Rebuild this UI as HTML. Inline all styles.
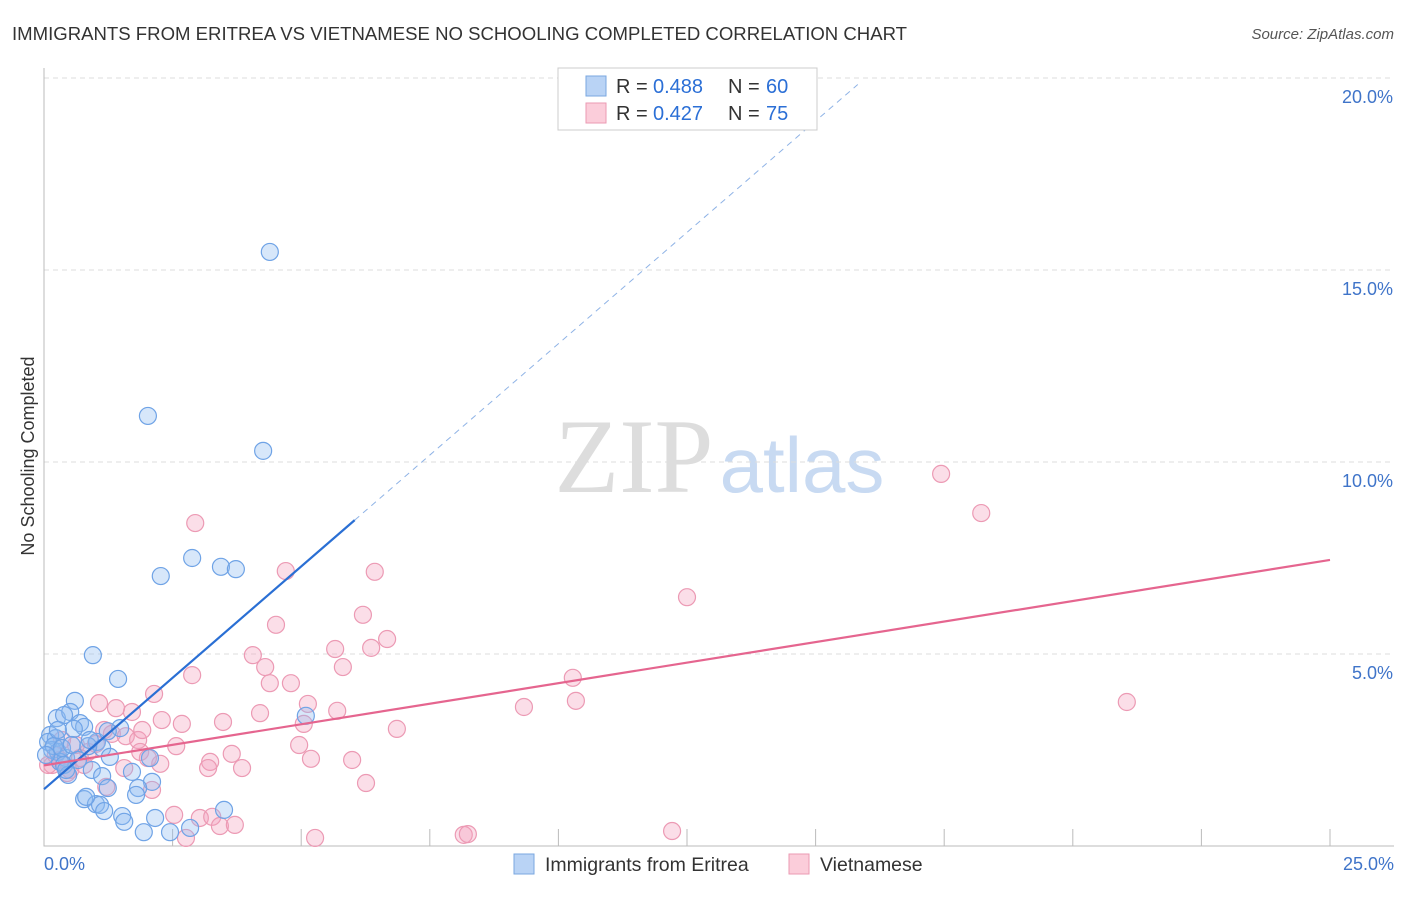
<!DOCTYPE html>
<html><head><meta charset="utf-8"><style>
body{margin:0;background:#fff;font-family:"Liberation Sans",sans-serif}
</style></head><body>
<svg id="chart" width="1406" height="892" xmlns="http://www.w3.org/2000/svg" font-family="Liberation Sans, sans-serif">
<text x="12" y="40" font-size="18" fill="#333" textLength="895" lengthAdjust="spacingAndGlyphs">IMMIGRANTS FROM ERITREA VS VIETNAMESE NO SCHOOLING COMPLETED CORRELATION CHART</text>
<text x="1394" y="39" font-size="15" fill="#555" text-anchor="end" font-style="italic">Source: ZipAtlas.com</text>
<text transform="translate(34,456) rotate(-90)" font-size="18" fill="#333" text-anchor="middle">No Schooling Completed</text>
<g><text x="634" y="492" font-size="106" fill="#ddd" font-family="Liberation Serif, serif" text-anchor="middle">ZIP</text><text x="802" y="492" font-size="78" fill="#c8daf2" text-anchor="middle">atlas</text></g>
<g id="grid"></g><g id="marks"></g><g id="lines"></g>
<g>
<rect x="558" y="68" width="259" height="62" fill="#fff" stroke="#ccc"/>
<rect x="586" y="76" width="20" height="20" fill="#b9d3f5" stroke="#7aa7e0"/>
<text x="616" y="93" font-size="20" fill="#333">R =</text><text x="653" y="93" font-size="20" fill="#2b6fd6">0.488</text>
<text x="728" y="93" font-size="20" fill="#333">N =</text><text x="766" y="93" font-size="20" fill="#2b6fd6">60</text>
<rect x="586" y="103" width="20" height="20" fill="#fbcdda" stroke="#eb9ab3"/>
<text x="616" y="120" font-size="20" fill="#333">R =</text><text x="653" y="120" font-size="20" fill="#2b6fd6">0.427</text>
<text x="728" y="120" font-size="20" fill="#333">N =</text><text x="766" y="120" font-size="20" fill="#2b6fd6">75</text>
</g>
<g>
<rect x="514" y="854" width="20" height="20" fill="#b9d3f5" stroke="#7aa7e0"/>
<text x="545" y="871" font-size="19.5" fill="#333">Immigrants from Eritrea</text>
<rect x="789" y="854" width="20" height="20" fill="#fbcdda" stroke="#eb9ab3"/>
<text x="820" y="871" font-size="19.5" fill="#333">Vietnamese</text>
</g>
</svg>
<script>
const xTicks=[0,2.5,5,7.5,10,12.5,15,17.5,20,22.5,25];
const yTicks=[5,10,15,20];
const yTickLabels=["5.0%","10.0%","15.0%","20.0%"];
const blueX=[4.39,2.02,4.26,2.88,2.27,3.44,3.73,0.95,1.44,0.60,0.25,0.51,0.39,0.70,0.78,0.58,1.03,1.48,1.24,0.12,0.23,1.13,0.86,1.28,0.16,0.27,0.43,0.31,0.39,0.93,1.13,1.71,0.47,1.24,2.10,1.83,1.79,0.78,1.01,1.09,1.17,1.52,0.82,2.16,1.56,1.94,2.45,2.84,3.50,5.09,0.08,0.19,0.04,0.35,0.54,0.89,2.06,0.43,0.66,0.27];
const blueY=[15.47,11.20,10.29,7.50,7.03,7.27,7.21,4.97,4.35,3.78,3.33,3.49,3.41,3.20,3.10,3.05,2.71,3.07,2.99,2.89,2.81,2.55,2.60,2.32,2.50,2.45,2.29,2.19,2.11,1.98,1.82,1.93,1.85,1.51,1.67,1.51,1.33,1.22,1.09,1.07,0.91,0.78,1.28,0.73,0.63,0.36,0.36,0.47,0.94,3.39,2.71,2.60,2.37,2.55,2.63,2.76,2.29,1.98,2.24,3.02];
const pinkX=[17.44,18.22,2.94,4.70,6.43,12.50,6.20,4.51,6.67,5.66,4.06,6.36,4.30,5.81,4.39,4.80,2.88,10.28,10.34,21.05,2.14,1.07,1.71,1.40,5.13,5.70,9.33,2.29,2.68,3.48,4.20,5.05,6.86,1.32,1.59,1.83,2.57,4.96,3.65,3.23,5.99,5.19,2.26,3.19,3.85,1.56,0.31,0.16,0.51,0.86,1.01,1.17,1.87,6.26,2.10,1.21,2.53,3.03,3.27,3.42,3.71,5.27,8.16,8.24,12.21,2.76,0.70,0.08,0.23,1.91,2.02,0.62,0.35,0.78,0.45];
const pinkY=[9.69,8.67,8.41,7.16,7.14,6.48,6.02,5.76,5.39,5.13,4.97,5.16,4.66,4.66,4.24,4.24,4.45,4.38,3.78,3.75,3.96,3.72,3.49,3.59,3.70,3.52,3.62,3.28,3.18,3.23,3.46,3.18,3.05,2.92,2.86,2.76,2.60,2.63,2.40,2.19,2.24,2.27,2.14,2.03,2.03,2.03,2.24,2.11,1.98,2.45,2.66,3.02,2.45,1.64,1.46,1.54,0.81,0.73,0.76,0.52,0.55,0.21,0.29,0.31,0.39,0.21,2.29,2.11,2.37,3.02,2.29,2.63,2.76,2.11,1.90];
const blueLine={b:1.48,m:1.16,solidEnd:6.04,dashEnd:15.82};
const pinkLine={b:2.1,m:0.214,end:25};
const NS="http://www.w3.org/2000/svg";
const X=v=>44+v*51.44, Y=v=>846-v*38.4;
function mk(t,a,p){const e=document.createElementNS(NS,t);for(const k in a)e.setAttribute(k,a[k]);p.appendChild(e);return e;}
const grid=document.getElementById('grid');
yTicks.forEach((t,i)=>{
 const l=mk('line',{x1:44,x2:1394,y1:Y(t),y2:Y(t),stroke:'#ddd','stroke-dasharray':'5,4'},grid);
 
 
 const tx=mk('text',{x:1393,y:Y(t)+25,'font-size':18,fill:'#3f74c9','text-anchor':'end'},grid);
 tx.textContent=yTickLabels[i];
 
 
});
const ax=mk('path',{d:'M44 68 V846 H1394',fill:'none',stroke:'#bbb'},grid);


xTicks.forEach(t=>{
 const l=mk('line',{x1:X(t),x2:X(t),y1:829,y2:846,stroke:'#bbb'},grid);
 
 
});
const xl0=mk('text',{x:44,y:870,'font-size':18,fill:'#3f74c9'},grid);xl0.textContent='0.0%';


const xl1=mk('text',{x:1394,y:870,'font-size':18,fill:'#3f74c9','text-anchor':'end'},grid);xl1.textContent='25.0%';


const marks=document.getElementById('marks');
pinkX.forEach((x,i)=>{
 const c=mk('circle',{cx:X(x),cy:Y(pinkY[i]),r:8.5,fill:'rgba(243,160,188,0.35)',stroke:'#ec9ab4','stroke-width':1.2},marks);
 
 
});
blueX.forEach((x,i)=>{
 const c=mk('circle',{cx:X(x),cy:Y(blueY[i]),r:8.5,fill:'rgba(140,185,240,0.35)',stroke:'#6fa3e6','stroke-width':1.2},marks);
 
 
});
const lines=document.getElementById('lines');
const bl=mk('line',{x1:X(0),y1:Y(blueLine.b),x2:X(blueLine.solidEnd),y2:Y(blueLine.b+blueLine.m*blueLine.solidEnd),stroke:'#2a6fd4','stroke-width':2.2},lines);


const bd=mk('line',{x1:X(blueLine.solidEnd),y1:Y(blueLine.b+blueLine.m*blueLine.solidEnd),x2:X(blueLine.dashEnd),y2:Y(blueLine.b+blueLine.m*blueLine.dashEnd),stroke:'#8fb3e6','stroke-width':1,'stroke-dasharray':'6,5'},lines);


const pl=mk('line',{x1:X(0),y1:Y(pinkLine.b),x2:X(pinkLine.end),y2:Y(pinkLine.b+pinkLine.m*pinkLine.end),stroke:'#e5658f','stroke-width':2.2},lines);


</script>
</body></html>
